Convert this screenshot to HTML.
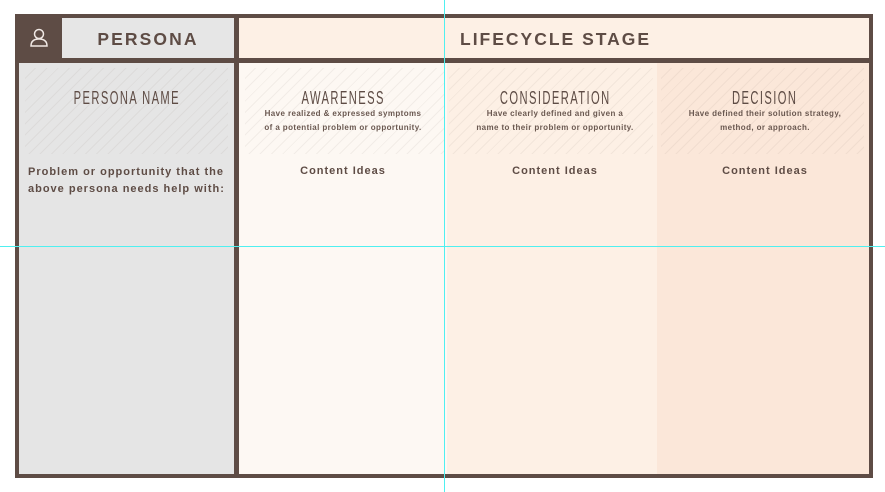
<!DOCTYPE html>
<html><head><meta charset="utf-8"><style>
html,body{margin:0;padding:0;width:885px;height:492px;background:#fff;overflow:hidden;position:relative;font-family:"Liberation Sans",sans-serif;}
.a{position:absolute;box-sizing:border-box;}
.hatch{background-image:repeating-linear-gradient(135deg,rgba(0,0,0,0) 0 7px,rgba(120,100,90,0.08) 7px 8px);}
.t{position:absolute;left:0;right:0;text-align:center;color:#5e4c45;}
.cond{display:inline-block;transform:scaleX(0.62);font-size:18px;letter-spacing:2.3px;font-weight:normal;white-space:nowrap;}
.sub{font-size:8px;font-weight:bold;letter-spacing:0.4px;line-height:14px;color:#6a5850;}
.ci{font-size:11px;font-weight:bold;letter-spacing:1px;color:#5e4c45;}
</style></head><body>
<div class="a" style="left:15px;top:14px;width:858px;height:464px;background:#5e4c45;"></div>
<div class="a" style="left:62px;top:18px;width:172px;height:40px;background:#e6e6e6;"></div>
<div class="a" style="left:239px;top:18px;width:630px;height:40px;background:#fdf0e5;"></div>
<div class="a" style="left:19px;top:63px;width:215px;height:411px;background:#e5e5e5;"></div>
<div class="a" style="left:239px;top:63px;width:208px;height:411px;background:#fdf8f3;"></div>
<div class="a" style="left:447px;top:63px;width:210px;height:411px;background:#fdf0e5;"></div>
<div class="a" style="left:657px;top:63px;width:212px;height:411px;background:#fbe7d9;"></div>
<div class="a hatch" style="left:25px;top:68px;width:203px;height:86px;"></div>
<div class="a hatch" style="left:245px;top:68px;width:200px;height:86px;"></div>
<div class="a hatch" style="left:449px;top:68px;width:204px;height:86px;"></div>
<div class="a hatch" style="left:661px;top:68px;width:203px;height:86px;"></div>
<svg class="a" style="left:28px;top:27px" width="22" height="22" viewBox="0 0 22 22"><circle cx="11" cy="7" r="4.5" fill="none" stroke="#f0e8e4" stroke-width="1.5"/><path d="M3 19 Q3 12 11 12 Q19 12 19 19 Z" fill="none" stroke="#f0e8e4" stroke-width="1.5"/></svg>
<div class="a" style="left:62px;top:18px;width:172px;height:40px;line-height:42px;text-align:center;font-weight:bold;font-size:17.5px;letter-spacing:2.1px;color:#5e4c45;">PERSONA</div>
<div class="a" style="left:460px;top:18px;height:40px;line-height:42px;font-weight:bold;font-size:17.5px;letter-spacing:2px;color:#5e4c45;white-space:nowrap;">LIFECYCLE STAGE</div>
<div class="a" style="left:19px;top:63px;width:215px;height:411px;">
<div class="t" style="top:25px"><span class="cond">PERSONA NAME</span></div>
<div class="a ci" style="left:9px;top:101px;width:205px;line-height:17px;text-align:left;font-size:11px;">Problem or opportunity that the above persona needs help with:</div>
</div>
<div class="a" style="left:239px;top:63px;width:208px;height:411px;">
<div class="t" style="top:25px"><span class="cond">AWARENESS</span></div>
<div class="t sub" style="top:44px">Have realized &amp; expressed symptoms<br>of a potential problem or opportunity.</div>
<div class="t ci" style="top:102px">Content Ideas</div>
</div>
<div class="a" style="left:447px;top:63px;width:216px;height:411px;">
<div class="t" style="top:25px"><span class="cond">CONSIDERATION</span></div>
<div class="t sub" style="top:44px">Have clearly defined and given a<br>name to their problem or opportunity.</div>
<div class="t ci" style="top:102px">Content Ideas</div>
</div>
<div class="a" style="left:659px;top:63px;width:212px;height:411px;">
<div class="t" style="top:25px"><span class="cond">DECISION</span></div>
<div class="t sub" style="top:44px">Have defined their solution strategy,<br>method, or approach.</div>
<div class="t ci" style="top:102px">Content Ideas</div>
</div>
<div class="a" style="left:444px;top:0;width:1px;height:492px;background:#4ff0f0;"></div>
<div class="a" style="left:0;top:246px;width:885px;height:1px;background:#4ff0f0;"></div>
</body></html>
